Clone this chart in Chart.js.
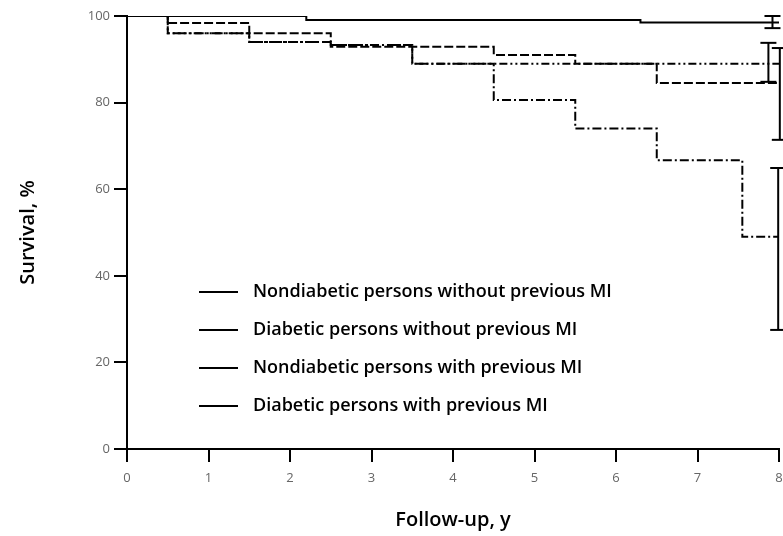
<!DOCTYPE html>
<html>
<head>
<meta charset="utf-8">
<script src="https://cdn.jsdelivr.net/npm/chart.js@4.4.0/dist/chart.umd.min.js"></script>
<style>
  html, body { margin: 0; padding: 0; background: #fff; }
  #wrap { width: 783px; height: 536px; }
</style>
</head>
<body>
<div id="wrap"><canvas id="km"></canvas></div>
<script>
// survival curves (years, %)
const seriesNames = [
  'Nondiabetic persons without previous MI',
  'Diabetic persons without previous MI',
  'Nondiabetic persons with previous MI',
  'Diabetic persons with previous MI'
];

const timesNondiabNoMI = [0, 2.2, 6.3, 8];
const survNondiabNoMI  = [100, 99.1, 98.5, 98.5];

const timesDiabNoMI = [0, 0.5, 1.5, 2.5, 4.5, 5.5, 6.5, 8];
const survDiabNoMI  = [100, 98.4, 96, 92.9, 91, 89, 84.5, 84.5];

const timesNondiabMI = [0, 0.5, 1.5, 2.5, 3.5, 8];
const survNondiabMI  = [100, 96, 94, 93.3, 89, 89];

const timesDiabMI = [0, 0.5, 1.5, 2.5, 3.5, 4.5, 5.5, 6.5, 7.55, 8];
const survDiabMI  = [100, 96, 94, 93.3, 89, 80.6, 74, 66.7, 49, 49];

// 95% CI at end of follow-up
const ciTimes = [7.92, 8.01, 7.87, 7.99];
const ciLow   = [97.2, 71.4, 84.8, 27.5];
const ciHigh  = [100, 92.6, 93.8, 64.9];

const xTicks = [0, 1, 2, 3, 4, 5, 6, 7, 8];
const yTicks = [0, 20, 40, 60, 80, 100];

const dashes = [[], [9, 3], [8, 3, 2, 3, 2, 3], [9, 3, 2, 3]];

function toPoints(xs, ys) {
  return xs.map((x, i) => ({ x: x, y: ys[i] }));
}

const curves = [
  toPoints(timesNondiabNoMI, survNondiabNoMI),
  toPoints(timesDiabNoMI, survDiabNoMI),
  toPoints(timesNondiabMI, survNondiabMI),
  toPoints(timesDiabMI, survDiabMI)
];

let datasets = [];

curves.forEach((pts, i) => {
  datasets.push({
    label: seriesNames[i],
    data: pts,
    stepped: 'before',
    borderColor: '#000',
    borderWidth: 2,
    borderDash: dashes[i],
    pointRadius: 0,
    fill: false
  });
});

ciTimes.forEach((t, i) => {
  datasets.push({
    label: 'ci' + i,
    data: [{ x: t, y: ciLow[i] }, { x: t, y: ciHigh[i] }],
    borderColor: '#000',
    borderWidth: 2,
    pointStyle: 'line',
    pointRadius: 8,
    pointBorderWidth: 2,
    pointBorderColor: '#000',
    clip: false,
    fill: false
  });
});

const fontFam = '"Open Sans", "DejaVu Sans", sans-serif';

const legendPlugin = {
  id: 'kmLegend',
  afterDatasetsDraw(chart) {
    const ctx = chart.ctx;
    const area = chart.chartArea;
    ctx.save();
    ctx.font = '600 18px ' + fontFam;
    ctx.fillStyle = '#000';
    ctx.strokeStyle = '#000';
    ctx.lineWidth = 2;
    ctx.textBaseline = 'middle';
    seriesNames.forEach((name, i) => {
      const y = area.top + 276 + i * 38;
      ctx.beginPath();
      ctx.moveTo(area.left + 72, y);
      ctx.lineTo(area.left + 111, y);
      ctx.stroke();
      ctx.fillText(name, area.left + 126, y);
    });
    ctx.restore();
  }
};

const chart = new Chart(document.getElementById('km').getContext('2d'), {
  type: 'line',
  data: { datasets: datasets },
  plugins: [legendPlugin],
  options: {
    responsive: true,
    maintainAspectRatio: false,
    animation: false,
    layout: { autoPadding: false, padding: { left: 16, top: 16, right: 0, bottom: 0 } },
    plugins: {
      legend: { display: false },
      tooltip: { enabled: false }
    },
    scales: {
      x: {
        type: 'linear',
        min: 0,
        max: 8,
        border: { display: true, color: '#000', width: 2 },
        grid: { display: true, drawOnChartArea: false, drawTicks: true, tickLength: 13, color: '#000', lineWidth: 2 },
        afterBuildTicks(scale) { scale.ticks = xTicks.map(v => ({ value: v })); },
        ticks: { color: '#666', padding: 8, font: { family: fontFam, size: 13 } },
        title: {
          display: true,
          text: 'Follow-up, y',
          color: '#000',
          font: { family: fontFam, size: 20, weight: '600' },
          padding: { top: 0, bottom: 4 }
        },
        afterFit(scale) {
          scale.height = 87;
          scale.paddingRight = 4;
        }
      },
      y: {
        min: 0,
        max: 100,
        border: { display: true, color: '#000', width: 2 },
        grid: { display: true, drawOnChartArea: false, drawTicks: true, tickLength: 13, color: '#000', lineWidth: 2 },
        afterBuildTicks(scale) { scale.ticks = yTicks.map(v => ({ value: v })); },
        ticks: { color: '#666', padding: 4, font: { family: fontFam, size: 13 } },
        title: {
          display: true,
          text: 'Survival, %',
          color: '#000',
          font: { family: fontFam, size: 20, weight: '600' },
          padding: { top: 0, bottom: 8 }
        },
        afterFit(scale) { scale.width = 111; }
      }
    }
  }
});
</script>
</body>
</html>
